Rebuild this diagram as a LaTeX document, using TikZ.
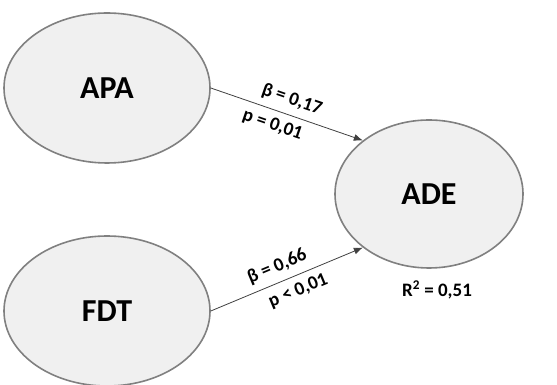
\documentclass[tikz,border=0pt]{standalone}
\usepackage{fontspec}
\setmainfont{Carlito}
\usetikzlibrary{shapes.geometric,arrows.meta}
\tikzset{
  latent/.style={ellipse,draw=black!50,line width=1.6pt,fill=black!6,font=\bfseries\fontsize{32}{34}\selectfont},
  path/.style={-{Latex[length=9pt,width=7pt]},line width=0.8pt,color=black!75},
  coef/.style={font=\bfseries\fontsize{19}{21}\selectfont,text=black,inner sep=1pt}
}
\begin{document}
\begin{tikzpicture}[x=1pt,y=1pt]
  \useasboundingbox (0,0) rectangle (557,385);
	\node (APA) [latent,minimum width=206pt,minimum height=150pt] at (107,297) {APA};
	\node (FDT) [latent,minimum width=206pt,minimum height=150pt] at (107,74) {FDT};
	\node (ADE) [latent,minimum width=188pt,minimum height=148pt] at (429,191) {ADE};
     
 \draw [path] (APA.east) -- (ADE.141)
   node [coef,midway,sloped,above=6pt,xshift=0pt] {β = 0,17}
   node [coef,midway,sloped,below=6pt,xshift=-10pt] {p = 0,01};
 \draw [path] (FDT.east) -- (ADE.219)
   node [coef,midway,sloped,above=6pt,xshift=-4pt] {β = 0,66}
   node [coef,midway,sloped,below=6pt,xshift=6pt] {p < 0,01};
 \node (R2) [coef] at (437,95) {R\textsuperscript{2} = 0,51};
\end{tikzpicture}
\end{document}
